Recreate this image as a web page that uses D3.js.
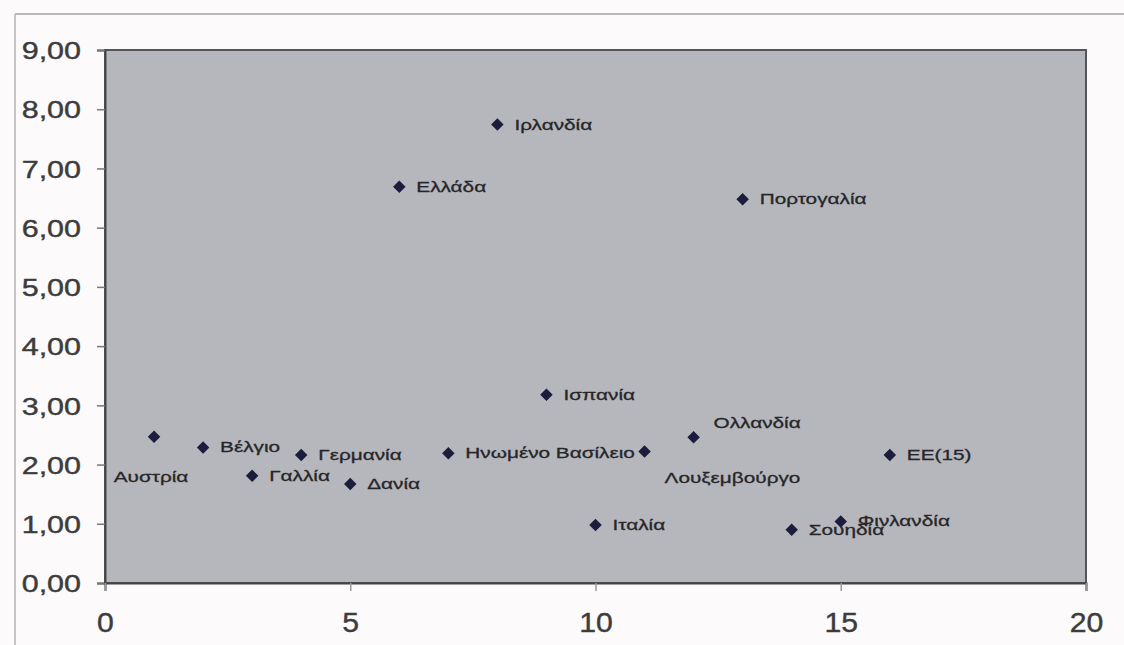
<!DOCTYPE html>
<html>
<head>
<meta charset="utf-8">
<script src="https://cdn.jsdelivr.net/npm/d3@7"></script>
<style>
  html, body { margin: 0; padding: 0; background: #fcfafb; }
  svg { display: block; }
</style>
</head>
<body>
<svg id="chart" width="1124" height="645"></svg>
<script>
// Countries (x = rank in list, y = value)
const countries = ["Αυστρία", "Βέλγιο", "Γαλλία", "Γερμανία", "Δανία", "Ελλάδα",
  "Ηνωμένο Βασίλειο", "Ιρλανδία", "Ισπανία", "Ιταλία", "Λουξεμβούργο", "Ολλανδία",
  "Πορτογαλία", "Σουηδία", "Φινλανδία", "ΕΕ(15)"];
const xValues = [1, 2, 3, 4, 5, 6, 7, 8, 9, 10, 11, 12, 13, 14, 15, 16];
const yValues = [2.47, 2.29, 1.81, 2.16, 1.67, 6.69, 2.19, 7.74, 3.18, 0.98, 2.22, 2.46,
  6.48, 0.90, 1.04, 2.16];
const xTicks = [0, 5, 10, 15, 20];
const yTicks = [0, 1, 2, 3, 4, 5, 6, 7, 8, 9];

// Where each data label sits relative to its marker
const labelPlacement = ["below", "right", "right", "right", "right", "right",
  "right", "right", "right", "right", "belowRight", "aboveRight",
  "right", "right", "right", "right"];

const svg = d3.select("#chart");
const W = 1124, H = 645;
const plot = { left: 105, right: 1086, top: 50, bottom: 583 };

const x = d3.scaleLinear().domain([0, 20]).range([plot.left, plot.right]);
const y = d3.scaleLinear().domain([0, 9]).range([plot.bottom, plot.top]);

const font = "'Liberation Sans', Arial, Helvetica, sans-serif";

// Outer frame lines (top and left)
svg.append("line").attr("x1", 15).attr("x2", W).attr("y1", 14).attr("y2", 14)
  .attr("stroke", "#b8b8b8").attr("stroke-width", 2);
svg.append("line").attr("x1", 15).attr("x2", 15).attr("y1", 14).attr("y2", H)
  .attr("stroke", "#c4c4c4").attr("stroke-width", 2);

// Plot area
svg.append("rect")
  .attr("x", plot.left).attr("y", plot.top)
  .attr("width", plot.right - plot.left).attr("height", plot.bottom - plot.top)
  .attr("fill", "#b6b7bc")
  .attr("stroke", "#555558").attr("stroke-width", 2);

// Y axis
const yAxis = d3.axisLeft(y).tickValues(yTicks).tickSize(8).tickPadding(16)
  .tickFormat(d => d3.format(".2f")(d).replace(".", ","));
const gy = svg.append("g").attr("transform", `translate(${plot.left},0)`).call(yAxis);
gy.select(".domain").attr("stroke", "#444").attr("stroke-width", 2);
gy.selectAll(".tick line").attr("stroke", "#777").attr("stroke-width", 1.5);
gy.selectAll(".tick text")
  .attr("font-family", font).attr("font-size", 24).attr("fill", "#3c3c3c")
  .attr("stroke", "#3c3c3c").attr("stroke-width", 0.4)
  .each(function () {
    const t = d3.select(this);
    const xx = +t.attr("x");
    t.attr("x", null).attr("transform", `translate(${xx},1) scale(1.27,1)`);
  });

// X axis
const xAxis = d3.axisBottom(x).tickValues(xTicks).tickSize(8).tickPadding(22)
  .tickFormat(d3.format("d"));
const gx = svg.append("g").attr("transform", `translate(0,${plot.bottom})`).call(xAxis);
gx.select(".domain").attr("stroke", "#444").attr("stroke-width", 2);
gx.selectAll(".tick line").attr("stroke", "#999").attr("stroke-width", 1.5);
gx.selectAll(".tick text")
  .attr("font-family", font).attr("font-size", 27).attr("fill", "#3c3c3c")
  .attr("stroke", "#3c3c3c").attr("stroke-width", 0.4)
  .each(function () {
    const t = d3.select(this);
    const yy = +t.attr("y");
    t.attr("y", null).attr("transform", `translate(0,${yy}) scale(1.12,1)`);
  });

// Data rows
const rows = countries.map((c, i) => ({ name: c, x: xValues[i], y: yValues[i], place: labelPlacement[i] }));

// Diamond markers
const diamond = d3.symbol().type(d3.symbolSquare).size(78);
svg.append("g").selectAll("path").data(rows).join("path")
  .attr("d", diamond)
  .attr("transform", d => `translate(${x(d.x)},${y(d.y)}) rotate(45)`)
  .attr("fill", "#1c1c3c");

// Data labels
const offsets = {
  right: { dx: 17, dy: 5, anchor: "start" },
  below: { dx: -3, dy: 45, anchor: "middle" },
  belowRight: { dx: 20, dy: 31, anchor: "start" },
  aboveRight: { dx: 20, dy: -9, anchor: "start" }
};
svg.append("g").selectAll("text").data(rows).join("text")
  .attr("transform", d => {
    const o = offsets[d.place];
    return `translate(${x(d.x) + o.dx},${y(d.y) + o.dy}) scale(1.34,1)`;
  })
  .attr("text-anchor", d => offsets[d.place].anchor)
  .attr("font-family", font).attr("font-size", 15.5)
  .attr("fill", "#262628")
  .attr("stroke", "#262628").attr("stroke-width", 0.3)
  .text(d => d.name);
</script>
</body>
</html>
